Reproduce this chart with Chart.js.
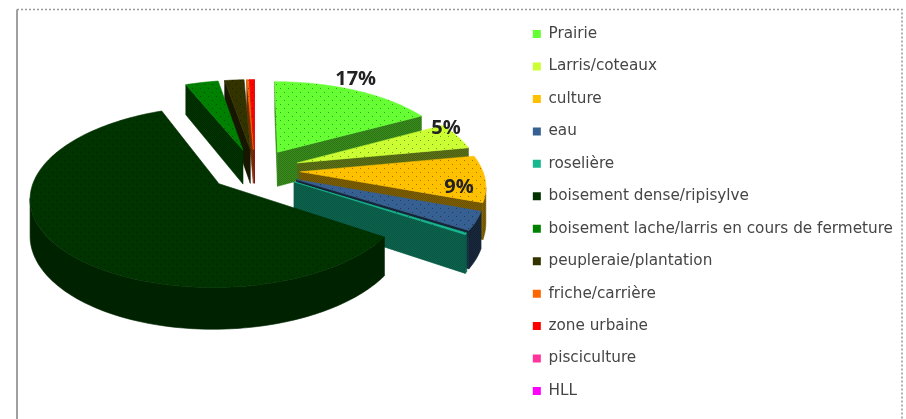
<!DOCTYPE html>
<html><head><meta charset="utf-8">
<style>html,body{margin:0;padding:0;background:#fff}canvas{display:block;filter:blur(.6px)}</style>
<script src="https://cdn.jsdelivr.net/npm/chart.js@4"></script></head>
<body><canvas id="c" width="906" height="419"></canvas>
<script>
const categories = ["Prairie","Larris/coteaux","culture","eau","roselière","boisement dense/ripisylve","boisement lache/larris en cours de fermeture","peupleraie/plantation","friche/carrière","zone urbaine","pisciculture","HLL"];
const shares = [17,5,8.6,3.4,0.3,59.6,3.4,2,0.2,0.5,0,0];
const colours = ["#66FF33","#CCFF33","#FFC000","#376092","#17B890","#003300","#008000","#333300","#FF6600","#FF0000","#FF3399","#FF00FF"];
const sideTones = [.55,.45,.5,.42,.55,.75,.4,.5,.5,.5,.5,.5];
const labelledSlices = [0,1,2];

// projection of the pie plane into the 3D view
const VIEW = {cx:255, cy:170, ax:182, ay:85, persp:0.14, depth:35, explode:0.25};
const LABEL_NUDGE = {0:[0,-11],1:[-11,-8],2:[-26,9]};

function project(u,v,z){
  const w = 1/(1-VIEW.persp*v);
  return [VIEW.cx+VIEW.ax*u*w, VIEW.cy+VIEW.ay*v*w+VIEW.depth*w*z];
}
function shade(hex,f){
  const n=parseInt(hex.slice(1),16);
  return `rgb(${(n>>16&255)*f|0},${(n>>8&255)*f|0},${(n&255)*f|0})`;
}
function dots(ctx,period,size,alpha){
  const t=document.createElement('canvas');t.width=t.height=period;
  const g=t.getContext('2d');g.fillStyle=`rgba(0,0,0,${alpha})`;
  g.fillRect(0,0,size,size);g.fillRect(period/2,period/2,size,size);
  return ctx.createPattern(t,'repeat');
}
function poly(ctx,pts,fill,overlay){
  ctx.beginPath();pts.forEach((p,i)=>i?ctx.lineTo(p[0],p[1]):ctx.moveTo(p[0],p[1]));ctx.closePath();
  ctx.fillStyle=fill;ctx.strokeStyle=fill;ctx.lineWidth=.6;ctx.fill();ctx.stroke();
  if(overlay){ctx.fillStyle=overlay;ctx.fill();}
}
function area(p){let s=0;for(let i=0;i<p.length;i++){const a=p[i],b=p[(i+1)%p.length];s+=a[0]*b[1]-b[0]*a[1];}return s;}

const pie3d = {
  id:'pie3d',
  beforeDraw(chart){
    const c=chart.ctx;c.save();
    c.strokeStyle='#808080';c.lineWidth=1.5;
    c.beginPath();c.moveTo(17,419);c.lineTo(17,9.5);c.stroke();
    c.strokeStyle='#999';c.setLineDash([2,2]);
    c.beginPath();c.moveTo(17,9.5);c.lineTo(902,9.5);c.lineTo(902,419);c.stroke();
    c.restore();
  },
  beforeDatasetDraw(chart,args){
    const ctx=chart.ctx, arcs=chart.getDatasetMeta(args.index).data;
    const topDots=dots(ctx,8,1,.4), sideDots=dots(ctx,2,1,.16);
    const items=arcs.map((arc,i)=>{
      const {startAngle:a0,endAngle:a1}=arc.getProps(['startAngle','endAngle'],true);
      const mid=(a0+a1)/2;
      return {i,a0,a1,mid,ou:VIEW.explode*Math.cos(mid),ov:VIEW.explode*Math.sin(mid)};
    }).filter(s=>s.a1>s.a0).sort((p,q)=>Math.sin(p.mid)-Math.sin(q.mid));
    ctx.save();
    items.forEach(s=>{
      const n=Math.max(2,Math.ceil((s.a1-s.a0)/0.03)), rim=[];
      for(let k=0;k<=n;k++){const a=s.a0+(s.a1-s.a0)*k/n;rim.push([s.ou+Math.cos(a),s.ov+Math.sin(a)]);}
      const apex=[s.ou,s.ov], side=shade(colours[s.i],sideTones[s.i]);
      const quad=(A,B)=>[project(A[0],A[1],0),project(B[0],B[1],0),project(B[0],B[1],1),project(A[0],A[1],1)];
      [quad(apex,rim[0]),quad(rim[n],apex)].forEach(f=>{ if(area(f)<0) poly(ctx,f,side,sideDots); });
      // contiguous visible rim segments become one face
      let run=[];
      const flush=()=>{
        if(run.length>1){
          const up=run.map(p=>project(p[0],p[1],0)), down=run.map(p=>project(p[0],p[1],1)).reverse();
          poly(ctx,[...up,...down],side,sideDots);
        }
        run=[];
      };
      for(let k=0;k<n;k++){
        if(area(quad(rim[k],rim[k+1]))<0){ if(!run.length) run.push(rim[k]); run.push(rim[k+1]); }
        else flush();
      }
      flush();
      poly(ctx,[apex,...rim].map(p=>project(p[0],p[1],0)),colours[s.i],topDots);
    });
    ctx.restore();
    return false;
  },
  afterDatasetsDraw(chart,args){
    const ctx=chart.ctx, arcs=chart.getDatasetMeta(0).data;
    ctx.save();ctx.font='700 20px "Open Sans"';ctx.fillStyle='#222';ctx.textAlign='center';ctx.textBaseline='middle';
    labelledSlices.forEach(i=>{
      const {startAngle:a0,endAngle:a1}=arcs[i].getProps(['startAngle','endAngle'],true);
      const m=(a0+a1)/2, r=1+VIEW.explode;
      const p=project(r*Math.cos(m),r*Math.sin(m),0), n=LABEL_NUDGE[i];
      ctx.fillText(Math.round(shares[i])+'%',p[0]+n[0],p[1]+n[1]);
    });
    ctx.restore();
  }
};

new Chart(document.getElementById('c'),{
  type:'pie',
  data:{labels:categories,datasets:[{data:shares,backgroundColor:colours,borderWidth:0}]},
  options:{
    responsive:false,animation:false,
    layout:{padding:{right:3,top:6}},
    plugins:{
      tooltip:{enabled:false},
      legend:{position:'right',
        labels:{boxWidth:8,boxHeight:8,padding:17.2,color:'#454545',font:{family:'"DejaVu Sans"',size:15.25}}}
    }
  },
  plugins:[pie3d]
});
</script></body></html>
